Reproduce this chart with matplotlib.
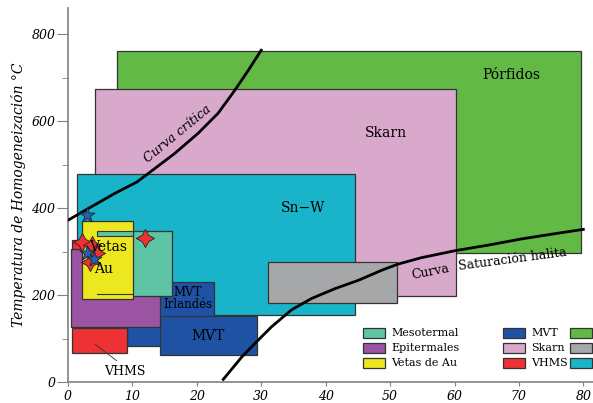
import numpy as np
import matplotlib.pyplot as plt
from matplotlib.patches import Rectangle

plt.rcParams['font.family'] = ['DejaVu Serif']

# Rangos de cada tipo de deposito: (x0, x1, y0, y1) salinidad / temperatura
porfidos = (7.6, 79.6, 296, 761)
skarn = (4.15, 60.2, 198, 673)
sn_w = (1.35, 44.6, 154, 478)
gris = (31.0, 51.1, 181, 275)
mvt_irl = (9.2, 22.7, 83, 230)
mvt = (14.3, 29.3, 62, 152)
epitermales = (0.47, 14.3, 127, 305)
vhms = (0.67, 9.2, 66, 125)
vhms_chico = (0.67, 2.1, 305, 326)
mesotermal = (4.55, 16.2, 198, 347)
vetas_au = (2.1, 10.05, 192, 371)

# Curvas
critica_x = [0, 3.15, 7.3, 10.7, 12.5, 16.6, 20.2, 23.3, 25.9, 28.0, 30.0]
critica_y = [372, 399, 434, 460, 480, 526, 572, 618, 671, 717, 763]
halita_x = [24.1, 27.0, 29.3, 31.6, 34.7, 37.8, 41.5, 45.1, 48.7, 51.2,
            54.9, 60.1, 65.3, 70.4, 75.1, 80.0]
halita_y = [6, 58, 93, 127, 166, 192, 215, 234, 257, 271,
            286, 302, 315, 329, 340, 351]

# Inclusiones fluidas
rojas_x = [2.1, 3.8, 4.3, 3.4, 11.9]
rojas_y = [322, 315, 296, 277, 330]
azules_x = [3.0, 3.0, 4.0]
azules_y = [384, 296, 284]

c_porf = '#62b946'
c_skarn = '#d9a9cc'
c_snw = '#19b4c9'
c_gris = '#a5a7a8'
c_mvt = '#1f52a4'
c_epi = '#9b54a1'
c_vhms = '#ee3233'
c_meso = '#5ec4a4'
c_vetas = '#ece71f'

fig = plt.figure(figsize=(5.93, 4.03), dpi=100)
ax = fig.add_axes([0.1147, 0.0521, 0.8853, 0.928])


def caja(r, color, z, ec='#333333', lw=0.9):
    ax.add_patch(Rectangle((r[0], r[2]), r[1] - r[0], r[3] - r[2],
                           facecolor=color, edgecolor=ec, linewidth=lw, zorder=z))


caja(porfidos, c_porf, 1)
caja(skarn, c_skarn, 2)
caja(sn_w, c_snw, 3)
caja(gris, c_gris, 4)
caja(mvt_irl, c_mvt, 4)
caja(mvt, c_mvt, 5)
caja(epitermales, c_epi, 5)
caja(vhms, c_vhms, 6)
caja(vhms_chico, c_vhms, 6)
caja(mesotermal, c_meso, 6)
caja(vetas_au, c_vetas, 7)
# borde del mesotermal que se ve sobre las vetas
ax.add_patch(Rectangle((mesotermal[0], mesotermal[3] - 12), vetas_au[1] - mesotermal[0], 12,
                       facecolor=c_meso, edgecolor='#333333', linewidth=0.8, zorder=7.5))
ax.plot([mesotermal[0], vetas_au[1]], [mesotermal[2] + 4, mesotermal[2] + 4],
        color='#333333', lw=0.8, zorder=7.5)

ax.plot(critica_x, critica_y, color='black', lw=2.0, zorder=8)
ax.plot(halita_x, halita_y, color='black', lw=2.0, zorder=8)

ax.scatter(rojas_x, rojas_y, marker=(4, 1, 0), s=170, facecolor=c_vhms,
           edgecolor='#222222', linewidth=0.6, zorder=10)
ax.scatter(azules_x, azules_y, marker='*', s=130, facecolor='#1f63b8',
           edgecolor='#222222', linewidth=0.6, zorder=11)

# etiquetas
ax.text(68.8, 707, 'Pórfidos', fontsize=10, ha='center', va='center', zorder=12)
ax.text(49.4, 572, 'Skarn', fontsize=10, ha='center', va='center', zorder=12)
ax.text(36.5, 400, 'Sn−W', fontsize=10, ha='center', va='center', zorder=12)
ax.text(6.2, 311, 'Vetas', fontsize=10, ha='center', va='center', zorder=12)
ax.text(5.5, 261, 'Au', fontsize=10, ha='center', va='center', zorder=12)
ax.text(18.6, 192, 'MVT\nIrlandés', fontsize=8.5, ha='center', va='center',
        linespacing=0.95, zorder=12)
ax.text(21.8, 106, 'MVT', fontsize=10, ha='center', va='center', zorder=12)
ax.text(8.85, 25, 'VHMS', fontsize=9, ha='center', va='center', zorder=12)
ax.plot([4.2, 7.55], [87, 49], color='#333333', lw=0.6, zorder=12)
ax.text(17.1, 570, 'Curva crítica', fontsize=9, style='italic', rotation=39.5,
        ha='center', va='center', zorder=12)
ax.text(56.2, 254, 'Curva', fontsize=9, rotation=11,
        ha='center', va='center', zorder=12)
ax.text(69.0, 283, 'Saturación halita', fontsize=9, rotation=7.5,
        ha='center', va='center', zorder=12)

# leyenda
ley_nombres = ['Mesotermal', 'Epitermales', 'Vetas de Au', 'MVT', 'Skarn', 'VHMS', '', '', '']
ley_colores = [c_meso, c_epi, c_vetas, c_mvt, c_skarn, c_vhms, c_porf, c_gris, c_snw]
col_x = [45.8, 67.5, 77.95]
fila_y = [112.6, 78, 43.7]
for i, (nom, col) in enumerate(zip(ley_nombres, ley_colores)):
    cx = col_x[i // 3]
    cy = fila_y[i % 3]
    ax.add_patch(Rectangle((cx, cy - 11.5), 3.4, 23, facecolor=col,
                           edgecolor='#333333', linewidth=0.9, zorder=12, clip_on=False))
    if nom:
        ax.text(cx + 4.4, cy, nom, fontsize=8, ha='left', va='center', zorder=12)

ax.set_xlim(0, 81.5)
ax.set_ylim(0, 860)
ax.set_xticks(np.arange(0, 81, 10))
ax.set_yticks(np.arange(0, 801, 200))
ax.set_yticks(np.arange(100, 801, 200), minor=True)
ax.tick_params(axis='y', which='major', length=8, color='#808080', labelsize=9, pad=1)
ax.tick_params(axis='y', which='minor', length=4.5, color='#808080')
ax.tick_params(axis='x', length=3, color='#808080', labelsize=9, pad=3)
for lab in ax.get_xticklabels() + ax.get_yticklabels():
    lab.set_style('italic')
for s in ['top', 'right']:
    ax.spines[s].set_visible(False)
for s in ['left', 'bottom']:
    ax.spines[s].set_color('#808080')
    ax.spines[s].set_linewidth(1.2)
ax.set_ylabel('Temperatura de Homogeneización °C', fontsize=10, style='italic', labelpad=4)

fig.savefig('out.png', dpi=100)
